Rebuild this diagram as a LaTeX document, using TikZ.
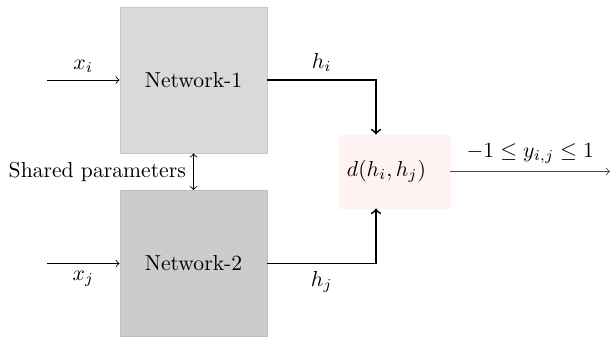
\documentclass[tikz,border=0pt]{standalone}
\usepackage{amsmath}
\begin{document}
\begin{tikzpicture}[x=0.01624cm,y=-0.01624cm,
  netbox/.style={draw=black!22,minimum width=2.387cm,minimum height=2.371cm,inner sep=0pt},
  distbox/.style={fill=red!5,draw=red!5,minimum width=1.803cm,minimum height=1.186cm,inner xsep=0.13cm,inner ysep=0pt,text width=1.543cm,align=left},
  conn/.style={->},
  thickconn/.style={->,thick}]
\useasboundingbox (0,0) rectangle (610,337);
\node[netbox,fill=black!15] (n1) at (193.5,80) {Network-1};
\node[netbox,fill=black!20,draw=black!25] (n2) at (193.5,263.5) {Network-2};
\node[distbox] (d) at (394.5,171.5) {$d(h_i,h_j)$};
\coordinate (xi) at (47,80);
\coordinate (xj) at (47,263.5);
\coordinate (out) at (610,171.5);
\draw[conn] (xi) -- node[above] {$x_i$} (n1.west);
\draw[conn] (xj) -- node[below] {$x_j$} (n2.west);
\draw[thickconn] (n1.east) -| node[pos=0.25,above] {$h_i$} (d.north -| 376,0);
\draw[thickconn] (n2.east) -| node[pos=0.25,below] {$h_j$} (d.south -| 376,0);
\draw[conn,black!70] (d.east) -- node[above,black] {$-1\leq y_{i,j}\leq 1$} (out);
\draw[<->] (n1.south) -- node[left] {Shared parameters} (n2.north);
\end{tikzpicture}
\end{document}
